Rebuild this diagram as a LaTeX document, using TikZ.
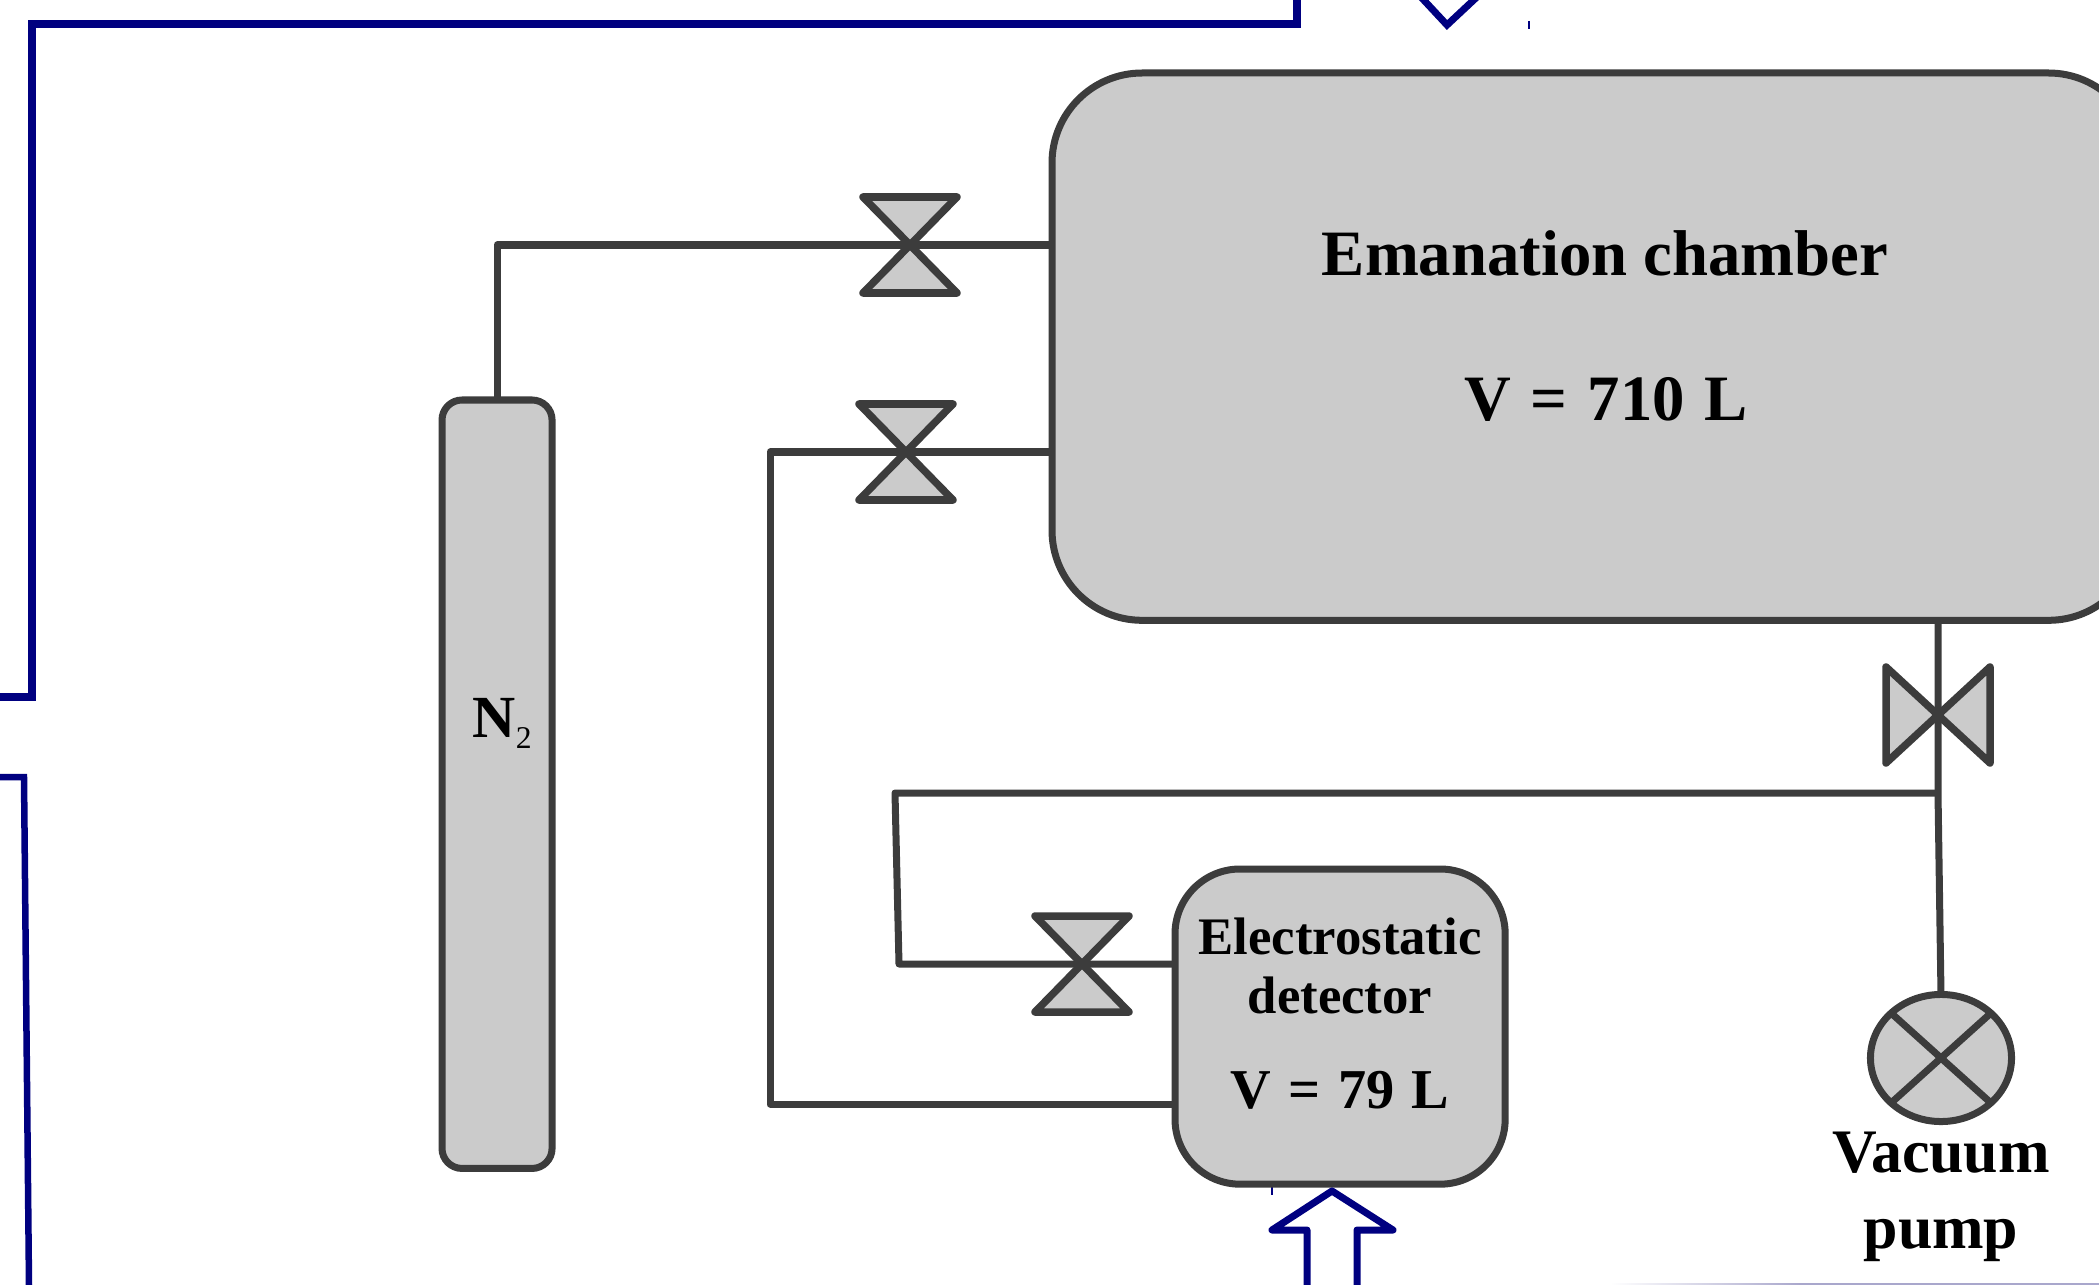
\documentclass[tikz,border=0pt]{standalone}
\usepackage{fontspec}
\setmainfont{Liberation Serif}
\usetikzlibrary{calc,shapes.geometric}
\definecolor{fillgray}{HTML}{CBCBCB}
\definecolor{linegray}{HTML}{3C3C3C}
\definecolor{navyblue}{HTML}{000080}
\definecolor{fadeblue}{HTML}{A9A7CC}
\tikzset{
  vessel/.style={draw=linegray,fill=fillgray,line width=.07cm,inner sep=0pt,outer sep=0pt},
  pipe/.style={draw=linegray,line width=.07cm,line join=round},
  valvebody/.style={draw=linegray,fill=fillgray,line width=.075cm,line join=round},
  txt/.style={inner sep=0pt,text=black,anchor=base},
  frameline/.style={draw=navyblue,line width=.075cm,line join=miter},
  flowarrow/.style={draw=navyblue,line width=.07cm,line join=round,fill=white},
  tickline/.style={draw=navyblue,line width=.012cm},
}
\newcommand{\hourglass}[2]{%
  \coordinate (#1) at (#2);
  \draw[valvebody] (#1) ++(-47,-48) -- ++(94,0) -- ++(-94,96) -- ++(94,0) -- cycle;}
\newcommand{\wsp}{\hspace{.31em}}
\begin{document}
\begin{tikzpicture}[x=.01cm,y=-.01cm]
\useasboundingbox (0,0) rectangle (2099,1285);
\clip (0,0) rectangle (2099,1285);

% blue frame fragments
\coordinate (fa) at (1297,0);
\coordinate (fb) at (1297,24);
\coordinate (fc) at (32,24);
\coordinate (fd) at (32,697);
\coordinate (fe) at (0,697);
\draw[frameline] (fa) -- (fb) -- (fc) -- (fd) -- (fe);
\coordinate (ga) at (0,777);
\coordinate (gb) at (24,777);
\coordinate (gc) at (29,1285);
\draw[frameline,line width=.065cm] (ga) -- (gb) -- (gc);
\coordinate (ha) at (1420,-4);
\coordinate (hb) at (1447,25);
\coordinate (hc) at (1478,-4);
\draw[flowarrow,fill=none,line join=miter] (ha) -- (hb) -- (hc);
\coordinate (ta) at (1529,21);
\coordinate (tb) at (1529,29);
\draw[tickline] (ta) -- (tb);
\coordinate (tc) at (1272,1187);
\coordinate (td) at (1272,1195);
\draw[tickline] (tc) -- (td);
\shade[left color=white,right color=fadeblue] (1610,1283) rectangle (1800,1285);
\fill[fadeblue] (1800,1283) rectangle (2099,1285);

% vessels
\node[vessel,rounded corners=.9cm,minimum width=10.86cm,minimum height=5.47cm,anchor=north west] (chamber) at (1052,73) {};
\node[vessel,rounded corners=.2cm,minimum width=1.10cm,minimum height=7.68cm,anchor=north west] (cyl) at (442,400) {};
\node[vessel,rounded corners=.65cm,minimum width=3.30cm,minimum height=3.15cm,anchor=north west] (det) at (1175,869) {};
\node[vessel,ellipse,minimum width=1.41cm,minimum height=1.27cm] (pump) at (1941,1058) {};

% pipes
\coordinate (v1) at (910,245);
\coordinate (v2) at (906,452);
\coordinate (v3) at (1938,715);
\coordinate (v4) at (1082,964);
\coordinate (n1) at (497,245);
\coordinate (n2) at (770,452);
\coordinate (n3) at (770,1104);
\coordinate (n4) at (1938,793);
\coordinate (n5) at (895,793);
\coordinate (n6) at (899,964);
\draw[pipe] (cyl.north -| n1) -- (n1) -- (v1) -- (v1 -| chamber.west);
\draw[pipe] (v2 -| chamber.west) -- (v2) -- (n2) -- (n3) -- (n3 -| det.west);
\draw[pipe] (v3 |- chamber.south) -- (v3) -- (n4) -- (pump.north);
\draw[pipe] (n4) -- (n5) -- (n6) -- (v4) -- (v4 -| det.west);

% valves
\hourglass{v1c}{910,245}
\hourglass{v2c}{906,452}
\hourglass{v4c}{1082,964}
\draw[valvebody] (v3) ++(-52,-48) -- ++(0,96) -- ++(104,-96) -- ++(0,96) -- cycle;

% pump cross
\draw[pipe] (pump.north west) -- (pump.south east);
\draw[pipe] (pump.north east) -- (pump.south west);

% bottom arrow
\coordinate (ap) at (1332,1191);
\draw[flowarrow] (1307,1290) -- (1307,1230) -- (1272,1230) -- (ap) -- (1393,1230) -- (1357,1230) -- (1357,1290);

% labels
\node[txt,font=\fontsize{18.4}{20}\selectfont\bfseries] (t1) at (1605,275) {Emanation chamber};
\node[txt,font=\fontsize{18.4}{20}\selectfont\bfseries] (t2) at (1606,420) {V\wsp=\wsp710\wsp L};
\node[txt,font=\fontsize{15}{17}\selectfont\bfseries] (t3) at (1340,954) {Electrostatic};
\node[txt,font=\fontsize{15}{17}\selectfont\bfseries] (t4) at (1340,1013) {detector};
\node[txt,font=\fontsize{16}{18}\selectfont\bfseries] (t5) at (1340,1108) {V\wsp=\wsp79\wsp L};
\node[txt,font=\fontsize{17.6}{19}\selectfont\bfseries] (t6) at (1941,1172) {Vacuum};
\node[txt,font=\fontsize{17.6}{19}\selectfont\bfseries] (t7) at (1941,1248) {pump};
\node[txt,anchor=base west,font=\fontsize{17}{19}\selectfont\bfseries] (t8) at (472,737) {N\raisebox{-.11cm}{\fontsize{9}{9}\selectfont\mdseries 2}};
\end{tikzpicture}
\end{document}
